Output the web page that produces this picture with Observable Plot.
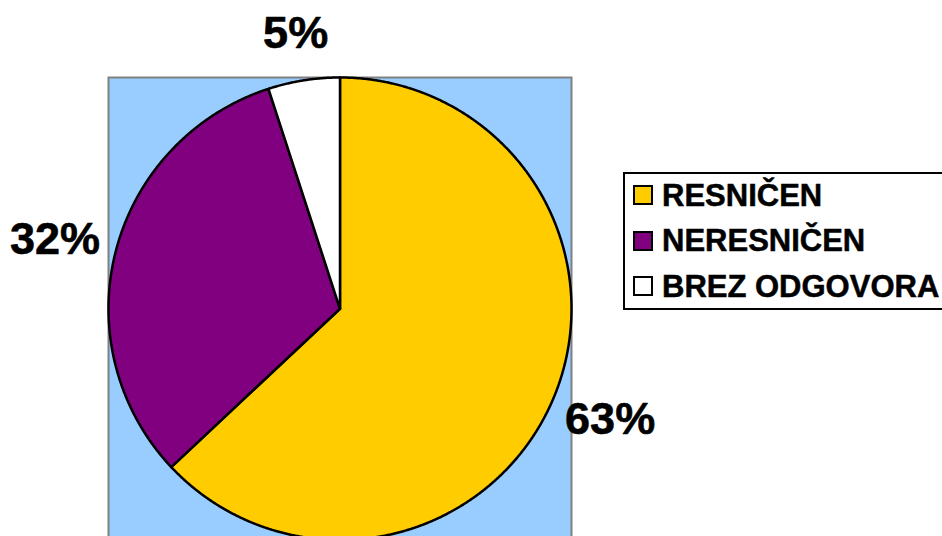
<!DOCTYPE html>
<html>
<head>
<meta charset="utf-8">
<script src="https://cdn.jsdelivr.net/npm/d3@7"></script>
<script src="https://cdn.jsdelivr.net/npm/@observablehq/plot@0.6"></script>
<style>
  html, body { margin: 0; padding: 0; background: #fff; }
  #wrap { position: relative; width: 942px; height: 536px; overflow: hidden; background: #fff;
          font-family: "Liberation Sans", Arial, sans-serif; }
  #wrap svg { position: absolute; left: 0; top: 0; }
  .lg-box { position: absolute; border: 2px solid #000; box-sizing: border-box; background: #fff; }
  .lg-sw { position: absolute; width: 20px; height: 20px; border: 2px solid #000; box-sizing: border-box; }
  .lg-tx { position: absolute; font-size: 31px; line-height: 31px; font-weight: bold; color: #000; white-space: nowrap;
           -webkit-text-stroke: 0.5px #000; }
</style>
</head>
<body>
<div id="wrap"></div>
<script>
const categories = ["RESNIČEN", "NERESNIČEN", "BREZ ODGOVORA"];
const values = [63, 32, 5];
const labels = ["63%", "32%", "5%"];
const colors = ["#FFCC00", "#800080", "#FFFFFF"];

const R_PX = 231.5;          // pie radius in pixels (1 data unit)
const LABEL_SIZE = 45;

// build slice outlines (clockwise from 12 o'clock) from the values
const total = d3.sum(values);
let acc = 0;
const slices = categories.map((c, i) => {
  const a0 = acc / total * 2 * Math.PI;
  acc += values[i];
  const a1 = acc / total * 2 * Math.PI;
  const pts = [{x: 0, y: 0}];
  const n = Math.max(2, Math.ceil((a1 - a0) / (Math.PI / 720)));
  for (let k = 0; k <= n; k++) {
    const a = a0 + (a1 - a0) * k / n;
    pts.push({x: Math.sin(a), y: Math.cos(a)});
  }
  pts.push({x: 0, y: 0});
  const mid = (a0 + a1) / 2;
  const dx = Math.sin(mid), dy = Math.cos(mid);
  // label box placed just outside the rim, pushed out by part of its size
  const hw = 0.85 * LABEL_SIZE * (0.556 * (labels[i].length - 1) + 0.889) / 2 / R_PX;
  const hh = LABEL_SIZE * 0.5 / R_PX;
  const rr = 1.106;
  return {cat: c, color: colors[i], pts, label: labels[i], lx: rr * dx + hw * dx, ly: rr * dy + hh * dy};
});

const plot = Plot.plot({
  width: 942,
  height: 546,
  marginLeft: 108,
  marginRight: 371,
  marginTop: 77,
  marginBottom: 0,
  x: {domain: [-1, 1], axis: null},
  y: {domain: [-1.028, 1], axis: null},
  style: {fontFamily: "'Liberation Sans', Arial, sans-serif", background: "transparent", overflow: "visible"},
  marks: [
    Plot.frame({fill: "#99CCFF", stroke: "#808080", strokeWidth: 2}),
    ...slices.map(s => Plot.line(s.pts, {x: "x", y: "y", fill: s.color, stroke: "#000", strokeWidth: 2.5, strokeLinejoin: "round", curve: "linear"})),
    Plot.text(slices, {x: "lx", y: "ly", text: "label", fontSize: LABEL_SIZE, fontWeight: "bold", fill: "#000", stroke: "#000", strokeWidth: 0.6, textAnchor: "middle"})
  ]
});

const wrap = document.getElementById("wrap");
wrap.appendChild(plot);

// legend
const box = document.createElement("div");
box.className = "lg-box";
Object.assign(box.style, {left: "623px", top: "172px", width: "340px", height: "138px"});
wrap.appendChild(box);
categories.forEach((c, i) => {
  const base = 206 + i * 45.5;
  const sw = document.createElement("div");
  sw.className = "lg-sw";
  Object.assign(sw.style, {left: "633px", top: (base - 21) + "px", background: colors[i]});
  wrap.appendChild(sw);
  const tx = document.createElement("div");
  tx.className = "lg-tx";
  Object.assign(tx.style, {left: "662px", top: (base - 26.2) + "px"});
  tx.textContent = c;
  wrap.appendChild(tx);
});
</script>
</body>
</html>
